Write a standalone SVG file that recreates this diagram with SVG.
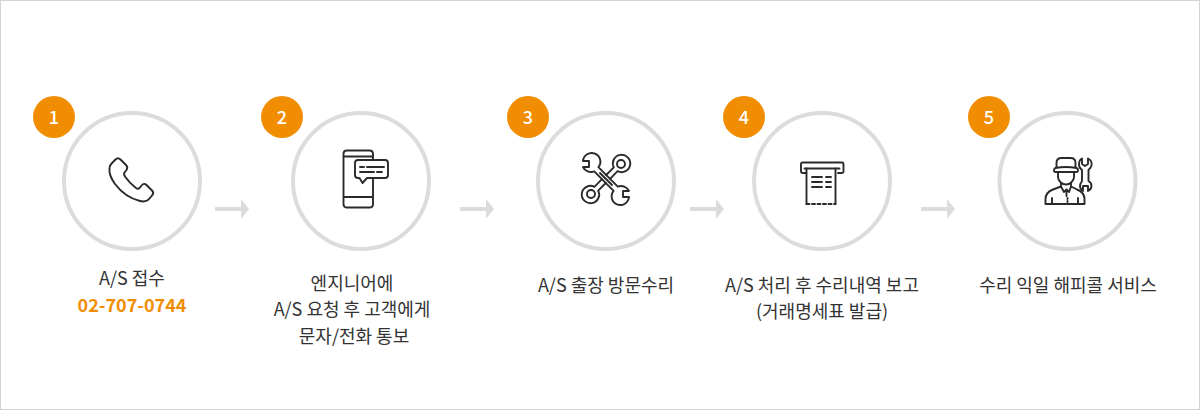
<svg xmlns="http://www.w3.org/2000/svg" width="1200" height="410" viewBox="0 0 1200 410">
<style>
.ring{fill:#fff;stroke:#dcdcdc;stroke-width:4}
.badge{fill:#f18d00}
.num{font:500 18px "Noto Sans CJK KR","Noto Sans",sans-serif;fill:#fff;text-anchor:middle}
.lbl{font:400 18px "Noto Sans CJK KR","Noto Sans",sans-serif;fill:#333;text-anchor:middle}
.tel{font:700 18px "Noto Sans CJK KR","Noto Sans",sans-serif;fill:#f18d00;text-anchor:middle}
.ic{fill:none;stroke:#2a2a2a;stroke-width:1.9;stroke-linecap:round;stroke-linejoin:round}
.ar{fill:#dcdcdc}
</style>
<defs>
<path id="arrow" d="M215 207h26v-8l8 10-8 10v-8h-26z"/>
</defs>
<rect x=".5" y=".5" width="1199" height="409" fill="#fff" stroke="#d4d4d4"/>
<g id="connectors" class="ar">
<use href="#arrow"/>
<use href="#arrow" x="245"/>
<use href="#arrow" x="475"/>
<use href="#arrow" x="706"/>
</g>
<g id="node1">
<circle class="ring" cx="132" cy="181" r="68"/>
<circle class="badge" cx="54" cy="117" r="21"/>
<text class="num" x="54" y="124">1</text>
<path class="ic" d="M115.500 159.500C117 158 119 158 120.500 159.500L126 165C127.500 166.500 127.500 168.500 126.500 170L124.500 172.500C123.500 174 124 175 125 176.500C128 181 132 185 136 188C137.500 189 138.500 189 139.500 188L142 185C143 183.500 145 183.500 146.500 185L152 190.500C153.500 192 153.500 194 152 195.500L149.500 198.500C147.500 201 144 202 140 201C130 198.500 121 192 115 184C111 178.500 109 172 109.500 168C109.700 166 110.500 164.500 112 163Z"/>
<text class="lbl" x="132" y="285">A/S 접수</text>
<text class="tel" x="132" y="312">02-707-0744</text>
</g>
<g id="node2">
<circle class="ring" cx="361" cy="181" r="68"/>
<circle class="badge" cx="282" cy="117" r="21"/>
<text class="num" x="282" y="124">2</text>
<path class="ic" d="M373 160V154C373 152 371.500 150.500 369.500 150.500H347C345 150.500 343.500 152 343.500 154V204C343.500 206 345 207.500 347 207.500H369.500C371.500 207.500 373 206 373 204V178M343.500 156.500H373M343.500 197H373"/>
<path class="ic" d="M358 160H385C387 160 388 161 388 163V175C388 177 387 178 385 178H367L362.500 183L359.500 178H358C356 178 355 177 355 175V163C355 161 356 160 358 160Z"/>
<path class="ic" d="M360 167H364M367 167H384M360 172H374M377 172H382"/>
</g>
<g id="node3">
<circle class="ring" cx="606" cy="181" r="68"/>
<circle class="badge" cx="528" cy="117" r="21"/>
<text class="num" x="528" y="124">3</text>
<path class="ic" d="M598.400 167.200L617.800 186.600A8.700 8.700 0 0 1 629 191L623 191L623 197L629 197A8.700 8.700 0 1 1 613.600 190.800L594.200 171.400A8.700 8.700 0 0 1 583 167L589 167L589 161L583 161A8.700 8.700 0 1 1 598.400 167.200Z"/>
<path class="ic" d="M600 173L612 185"/>
<path class="ic" d="M606.200 175L613.800 167.400A8.700 8.700 0 1 1 617.600 171.200L610 178.800M602 179.200L594.400 186.800A8.700 8.700 0 1 0 598.200 190.600L605.800 183"/>
<circle class="ic" cx="621" cy="164" r="4"/>
<circle class="ic" cx="591" cy="194" r="4"/>
</g>
<g id="node4">
<circle class="ring" cx="822" cy="181" r="68"/>
<circle class="badge" cx="744" cy="117" r="21"/>
<text class="num" x="744" y="124">4</text>
<path class="ic" d="M806 173H802.500C801.500 173 801 172.500 801 171.500V164C801 163 801.500 162.500 802.500 162.500H842C843 162.500 843.500 163 843.500 164V171.500C843.500 172.500 843 173 842 173H838"/>
<path class="ic" d="M804.500 168.500H839.500"/>
<path class="ic" d="M806.500 168.500V204M835.500 168.500V204"/>
<path class="ic" d="M806.500 204H835.500" stroke-dasharray="3 2.500" stroke-linecap="butt"/>
<path class="ic" d="M812 177H822M826 177H831M812 182H822M826 182H831M812 187H822M826 187H831"/>
</g>
<g id="node5">
<circle class="ring" cx="1067.500" cy="181" r="68"/>
<circle class="badge" cx="989" cy="117" r="21"/>
<text class="num" x="989" y="124">5</text>
<path class="ic" d="M1056.500 168V163C1056.500 160 1058.500 158 1061.500 158H1070.500C1073.500 158 1075.500 160 1075.500 163V168M1055.500 172H1076.500C1078.500 172 1078.500 168.500 1076.500 168C1071 167 1061 167 1055.500 168C1053.500 168.500 1053.500 172 1055.500 172ZM1058 172V177C1058 181 1062 184.500 1066 184.500C1070 184.500 1074 181 1074 177V172"/>
<path class="ic" d="M1061 183V186.500L1053 189.500C1048 191.500 1045.500 195 1045.500 199V204H1084.500V199C1084.500 195 1082 191.500 1077 189.500L1071 186.500V183M1061 186.500L1064 192L1066.500 189.500L1069 192L1071 186.500M1066.500 190V196M1067.500 198V199M1067.500 201V202M1052 204V198M1078 204V198"/>
<path class="ic" d="M1082 158.500V164L1085 166L1088 164V158.500C1091 160 1092 163 1091.500 165.500C1091 167.500 1089.500 169 1088.500 170V181C1090.500 182 1091.500 184 1091.500 186C1091.500 188.500 1090 190 1088 191V186H1083V191C1081.500 190 1080 188 1080 186C1080 184 1081 182.500 1082 181V170C1080 168.500 1079 166.500 1079 164.500C1079 162 1080 159.500 1082 158.500Z"/>
</g>
<text class="lbl" x="352" y="290">엔지니어에</text>
<text class="lbl" x="352" y="316">A/S 요청 후 고객에게</text>
<text class="lbl" x="354" y="343">문자/전화 통보</text>
<text class="lbl" x="606" y="292">A/S 출장 방문수리</text>
<text class="lbl" x="822" y="292">A/S 처리 후 수리내역 보고</text>
<text class="lbl" x="822" y="318">(거래명세표 발급)</text>
<text class="lbl" x="1068" y="292">수리 익일 해피콜 서비스</text>
</svg>
